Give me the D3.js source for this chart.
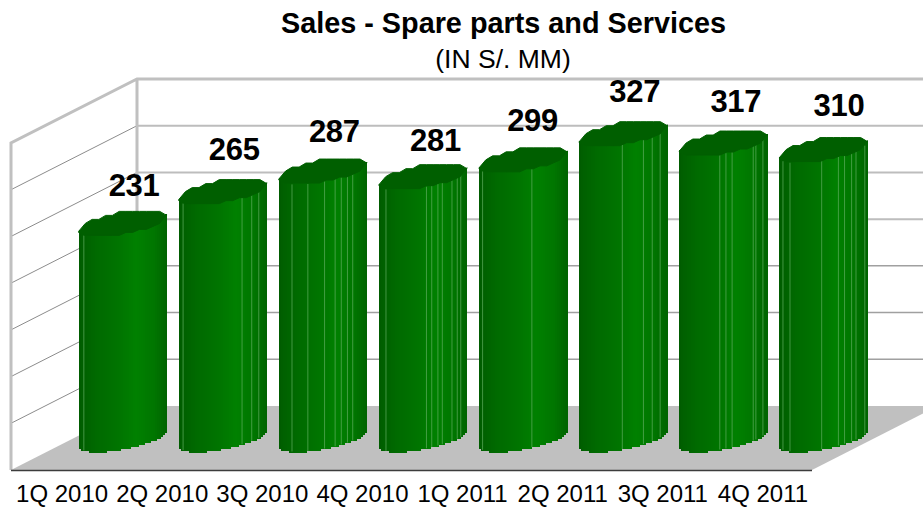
<!DOCTYPE html>
<html>
<head>
<meta charset="utf-8">
<script src="https://cdn.jsdelivr.net/npm/d3@7/dist/d3.min.js"></script>
<style>
html,body{margin:0;padding:0;background:#fff}
svg{display:block}
text{font-family:"Liberation Sans",Arial,sans-serif;fill:#000}
</style>
</head>
<body>
<svg id="chart" width="923" height="508"></svg>
<script>
const categories = ["1Q 2010","2Q 2010","3Q 2010","4Q 2010","1Q 2011","2Q 2011","3Q 2011","4Q 2011"];
const sales = [231,265,287,281,299,327,317,310];
// Visible facet seams on each cylinder, as a share of its width.
const seams = [
  [.06],
  [.05,.72,.83,.91],
  [.15,.33,.52,.64,.71,.78,.84],
  [.08,.54,.60,.67,.72,.83,.89,.93],
  [.04,.60],
  [.49,.73,.83,.92],
  [.46,.53,.60,.84,.87,.95],
  [.04,.12,.48,.67,.74,.82,.87,.97]
];

const W = 923, H = 508;
const floorY = 470, frontL = 11, frontR = 812;
const depthX = 126, depthY = 64;

const svg = d3.select("#chart");
const x = d3.scaleBand().domain(categories).range([frontL, frontR]);
const value = d3.scaleLinear().domain([0, 350]).range([0, 327]);
const tickValues = value.ticks(7);

// Oblique projection: category position, depth 0..1, value height.
const px = (sx, z) => sx + z * depthX;
const py = (v, z) => floorY - z * depthY - value(v);

const walls = svg.append("g");

// Floor
walls.append("polygon")
  .attr("points", [[frontL, floorY], [px(frontL,1), py(0,1)], [px(frontR,1), py(0,1)], [frontR, floorY]].join(" "))
  .attr("fill", "#c0c0c0");

// Gridlines on the side wall and the back wall
const inner = tickValues.filter(t => t > 0 && t < 350);
walls.selectAll("line.side").data(inner).join("line")
  .attr("class", "side")
  .attr("x1", px(frontL,0)).attr("y1", t => py(t,0))
  .attr("x2", px(frontL,1)).attr("y2", t => py(t,1))
  .attr("stroke", "#8c8c8c").attr("stroke-width", 1);
walls.selectAll("line.back").data(inner).join("line")
  .attr("class", "back")
  .attr("x1", px(frontL,1)).attr("y1", t => py(t,1))
  .attr("x2", W).attr("y2", t => py(t,1))
  .attr("stroke", t => t >= 200 ? "#bdbdbd" : "#a0a0a0")
  .attr("stroke-width", t => t >= 200 ? 2 : 1.5);

// Wall frame
const frame = "#c0c0c0";
walls.append("path")
  .attr("d", `M${frontL},${py(0,0)}V${py(350,0)}L${px(frontL,1)},${py(350,1)}H${W}M${px(frontL,1)},${py(350,1)}V${py(0,1)}`)
  .attr("fill", "none").attr("stroke", frame).attr("stroke-width", 3);

// Front edge of the floor
walls.append("line")
  .attr("x1", frontL).attr("x2", frontR)
  .attr("y1", floorY + .5).attr("y2", floorY + .5)
  .attr("stroke", "#3c3c3c").attr("stroke-width", 1.6);

// Cylinder geometry
const radius = 44, depthR = 0.21, midZ = 0.5, shiftX = -1.5, shiftY = 1.2;
const rise = depthR * depthY;
const skew = Math.atan2(depthR * depthX, Math.sqrt(radius*radius - (depthR*depthX)**2));
const shade = d3.scaleLinear()
  .domain([0, .04, .2, .45, .65, .85, 1])
  .range(["#005a00","#006000","#006a00","#007400","#008000","#007600","#006400"]);
const snap = (v, step) => Math.round(v / step) * step;
const frontOffset = f => -rise * Math.sin(2*Math.PI - Math.acos(2*f - 1) + skew);
const backOffset = f => -rise * Math.sin(Math.acos(2*f - 1) + skew);

// Small per-label placement adjustments, left to right
const labelShiftX = [0,0,0,1,-2,0,1,4];
const labelShiftY = [0,-4,-2,2,-2,-4,-4,-6];

const bars = svg.selectAll("g.bar").data(categories.map((c,i) => ({c, v:sales[i], s:seams[i], i})))
  .join("g").attr("class","bar");

bars.each(function(d) {
  const g = d3.select(this);
  const cx = px(x(d.c) + x.bandwidth()/2, midZ) + shiftX;
  const left = cx - radius, wid = radius * 2;
  const base = py(0, midZ) + shiftY, top = py(d.v, midZ) + shiftY;
  const slices = d3.range(44);

  // Body: narrow vertical facets, shaded left to right; tops tuck under the cap
  g.selectAll("path.facet").data(slices).join("path")
    .attr("class","facet")
    .attr("shape-rendering","crispEdges")
    .attr("fill", n => shade((n + .5) / 44))
    .attr("d", n => {
      const f0 = n / 44, f1 = (n + 1) / 44;
      const a = left + f0 * wid, b = left + f1 * wid;
      const oT = snap(frontOffset((f0 + f1) / 2), 2);
      return `M${a},${top + oT - 3}H${b + .5}V${base + oT}H${a}Z`;
    });

  // Facet seams
  g.selectAll("line.seam").data(d.s).join("line")
    .attr("class","seam")
    .attr("x1", f => left + f * wid).attr("x2", f => left + f * wid)
    .attr("y1", f => top + frontOffset(f))
    .attr("y2", f => base + frontOffset(f) - 1)
    .attr("stroke", "#5fae5f").attr("stroke-opacity", .7).attr("stroke-width", 1);

  // Top cap with its faceted outline
  const steps = d3.range(0, 1.0001, 1/13);
  const cap = steps.map(f => [left + f * wid, top + snap(backOffset(f), 4)])
    .concat(steps.slice().reverse().map(f => [left + f * wid, top + snap(frontOffset(f), 3)]));
  g.append("polygon").attr("points", cap.join(" "))
    .attr("fill", "#005f00").attr("stroke", "#005f00").attr("stroke-width", 1);

  // Value label
  g.append("text")
    .attr("x", cx + 11.5 + labelShiftX[d.i]).attr("y", top - 27.2 + labelShiftY[d.i])
    .attr("text-anchor","middle")
    .attr("font-size", 31).attr("font-weight","bold")
    .attr("letter-spacing", -.3)
    .text(d.v);
});

// Category axis
const axis = svg.append("g")
  .attr("transform", `translate(1,${floorY})`)
  .call(d3.axisBottom(x).tickSize(0).tickPadding(15));
axis.select(".domain").remove();
axis.selectAll("text")
  .attr("font-family", '"Liberation Sans",Arial,sans-serif')
  .attr("font-size", 24).attr("fill", "#000");

// Titles
svg.append("text").attr("x", 503.5).attr("y", 33).attr("text-anchor","middle")
  .attr("font-size", 28.8).attr("font-weight","bold").text("Sales - Spare parts and Services");
svg.append("text").attr("x", 503).attr("y", 67.5).attr("text-anchor","middle")
  .attr("font-size", 26.5).text("(IN S/. MM)");
</script>
</body>
</html>
